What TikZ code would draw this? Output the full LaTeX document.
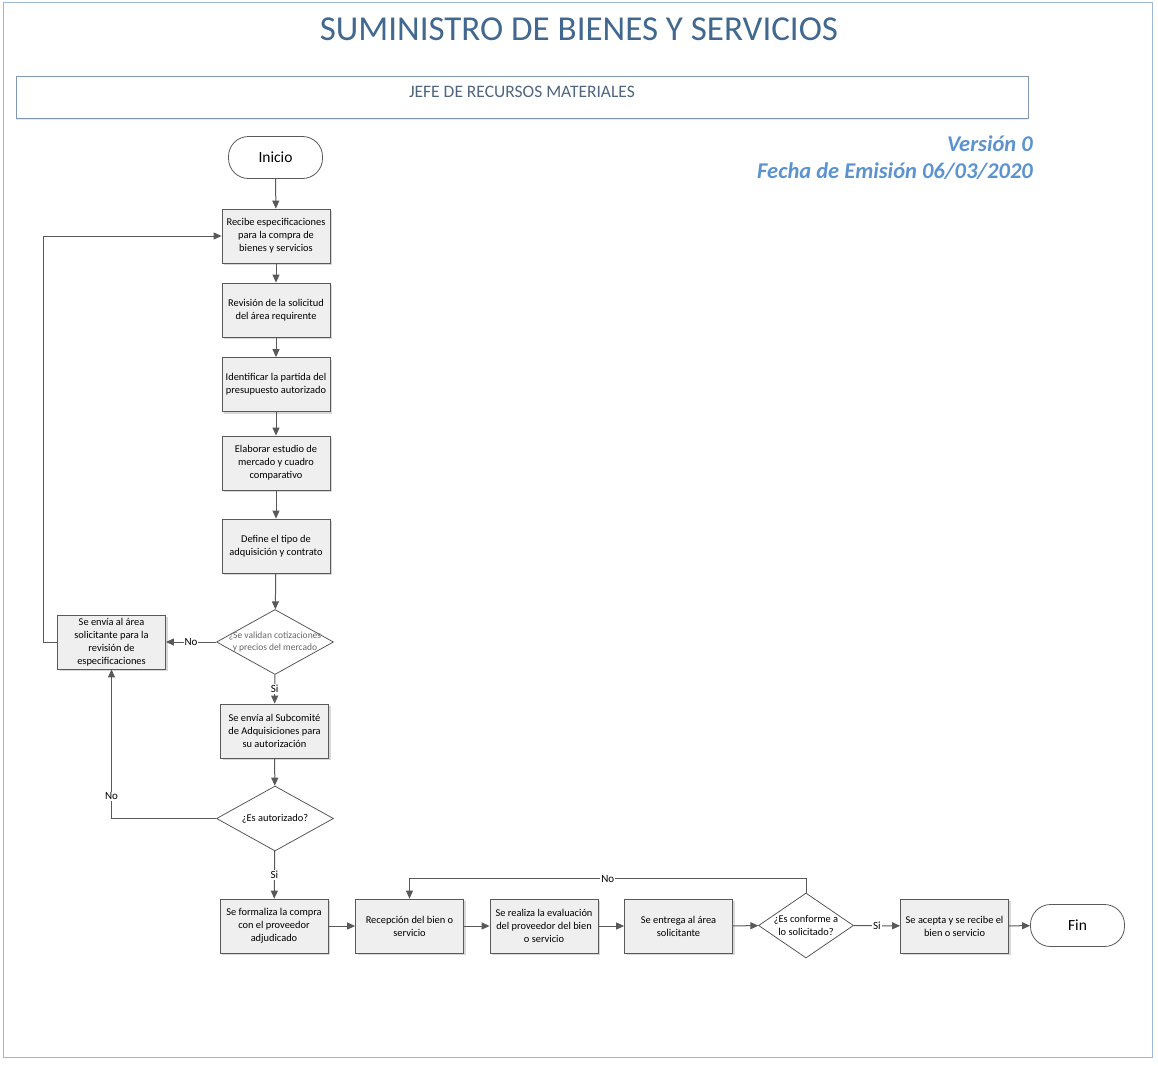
\documentclass[tikz,border=0pt]{standalone}
\usepackage{fontspec}
\setmainfont{Carlito}
\usepackage{xcolor}
\usetikzlibrary{arrows.meta,positioning,shapes.geometric,shadows}
\definecolor{linegray}{HTML}{595959}
\definecolor{boxgray}{HTML}{EFEFEF}
\definecolor{titleblue}{HTML}{41688F}
\definecolor{lanetext}{HTML}{4F6580}
\definecolor{laneline}{HTML}{8197B2}
\definecolor{verblue}{HTML}{5B93CF}
\definecolor{frameblue}{HTML}{9DB6D3}

\begin{document}
\begin{tikzpicture}[x=1pt,y=-1pt,
  >={Triangle[length=8pt,width=7pt]},
  proc/.style={draw=linegray,fill=boxgray,line width=0.8pt,minimum width=108pt,
    minimum height=54pt,inner sep=1pt,align=center,
    font=\fontsize{10.4}{13}\selectfont,
    drop shadow={shadow xshift=2pt,shadow yshift=-2pt,fill=black!30}},
  term/.style={draw=linegray,fill=white,line width=0.8pt,rounded corners=20pt,
    minimum width=94pt,minimum height=42pt,font=\fontsize{15.5}{17}\selectfont},
  decis/.style={diamond,draw=linegray,fill=white,line width=0.8pt,aspect=1.8,
    inner sep=0pt,minimum width=117pt,minimum height=65pt,align=center,
    font=\fontsize{10.4}{13}\selectfont},
  flow/.style={draw=linegray,line width=1pt,->},
  lbl/.style={fill=white,inner sep=1pt,font=\fontsize{11}{12}\selectfont}]
\useasboundingbox (0,0) rectangle (1158,1065);
% frame and header
\draw [frameblue,line width=1pt] (3,3) rectangle (1152,1057);
\node (title) at (579,29) [text=titleblue,font=\fontsize{35}{40}\selectfont]
  {SUMINISTRO DE BIENES Y SERVICIOS};
\node (lane) at (522,97) [draw=laneline,fill=white,line width=1pt,minimum width=1012pt,
  minimum height=42pt,drop shadow={shadow xshift=0pt,shadow yshift=-2pt,fill=laneline!40}] {};
\node (lanetxt) at (522,92) [text=lanetext,font=\fontsize{17.5}{20}\selectfont]
  {JEFE DE RECURSOS MATERIALES};
\node (version) at (1033,144) [anchor=east,inner sep=0pt,text=verblue,font=\fontsize{22.5}{26}\selectfont\bfseries\itshape]
  {Versión 0};
\node (fecha) at (1033,171) [anchor=east,inner sep=0pt,text=verblue,font=\fontsize{22.5}{26}\selectfont\bfseries\itshape]
  {Fecha de Emisión 06/03/2020};
% main column
\node (inicio) at (275.5,157.5) [term] {Inicio};
\node (recibe) at (276,236) [proc] {Recibe especificaciones\\para la compra de\\bienes y servicios};
\node (revision) at (276,310) [proc] {Revisión de la solicitud\\del área requirente};
\node (partida) at (276,384.5) [proc] {Identificar la partida del\\presupuesto autorizado};
\node (estudio) at (276,463) [proc] {Elaborar estudio de\\mercado y cuadro\\comparativo};
\node (tipo) at (276,546) [proc] {Define el tipo de\\adquisición y contrato};
\node (valida) at (275,642) [decis,inner xsep=-8pt,inner ysep=-4pt,text=black!60,
  font=\fontsize{9.5}{12}\selectfont] {¿Se validan cotizaciones\\y precios del mercado};
\node (envia) at (111.5,642) [proc] {Se envía al área\\solicitante para la\\revisión de\\especificaciones};
\node (subcom) at (274.5,731) [proc] {Se envía al Subcomité\\de Adquisiciones para\\su autorización};
\node (autoriza) at (275,818.5) [decis] {¿Es autorizado?};
% bottom row
\node (formaliza) at (274,926) [proc] {Se formaliza la compra\\con el proveedor\\adjudicado};
\node (recepcion) at (409.5,926) [proc] {Recepción del bien o\\servicio};
\node (evalua) at (544,926) [proc] {Se realiza la evaluación\\del proveedor del bien\\o servicio};
\node (entrega) at (678.5,926) [proc] {Se entrega al área\\solicitante};
\node (conforme) at (806,925.5) [decis,minimum width=95pt,aspect=1.45] {¿Es conforme a\\lo solicitado?};
\node (acepta) at (954.5,926) [proc] {Se acepta y se recibe el\\bien o servicio};
\node (fin) at (1077.5,925.5) [term] {Fin};
% connectors
\draw [flow] (inicio) -- (recibe);
\draw [flow] (recibe) -- (revision);
\draw [flow] (revision) -- (partida);
\draw [flow] (partida) -- (estudio);
\draw [flow] (estudio) -- (tipo);
\draw [flow] (tipo) -- (valida);
\draw [flow] (valida) -- node [lbl] {No} (envia);
\draw [flow] (envia.west) -- ++(-14,0) |- (recibe.west);
\draw [flow] (valida) -- node [lbl] {Si} (subcom);
\draw [flow] (subcom) -- (autoriza);
\draw [flow] (autoriza.west) -| node [lbl,pos=0.575] {No} (envia.south);
\draw [flow] (autoriza) -- node [lbl] {Si} (formaliza);
\draw [flow] (formaliza) -- (recepcion);
\draw [flow] (recepcion) -- (evalua);
\draw [flow] (evalua) -- (entrega);
\draw [flow] (entrega) -- (conforme);
\draw [flow] (conforme) -- node [lbl] {Si} (acepta);
\draw [flow] (acepta) -- (fin);
\draw [flow] (conforme.north) -- ++(0,-14) -| node [lbl,pos=0.25] {No} (recepcion.north);
\end{tikzpicture}
\end{document}
